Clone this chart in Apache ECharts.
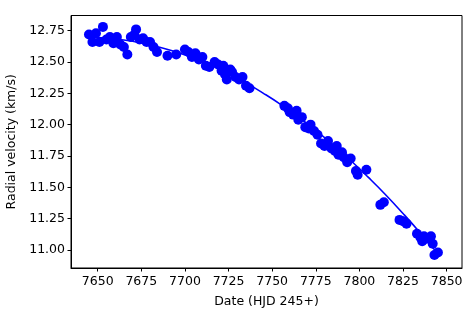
<!DOCTYPE html>
<html><head><meta charset="utf-8">
<script src="https://cdn.jsdelivr.net/npm/echarts@6/dist/echarts.min.js"></script>
<style>html,body{margin:0;padding:0;background:#fff}#c{width:474px;height:316px}</style>
</head><body><div id="c"></div>
<script>
const obsDates = [7645,7647,7649,7651,7653,7655,7657,7659,7661,7663,7665,7667,7669,7671,7672,7674,7676,7678,7680,7682,7684,7690,7695,7700,7702,7704,7706,7708,7710,7712,7714,7717,7719,7721,7722,7723,7724,7726,7727,7729,7731,7733,7735,7737,7757,7759,7760,7762,7764,7765,7767,7769,7771,7772,7774,7776,7778,7780,7782,7784,7786,7787,7788,7790,7791,7793,7795,7798,7799,7804,7812,7814,7823,7825,7827,7833,7835,7836,7837,7838,7840,7841,7842,7843,7845];
const obsRV = [12.72,12.66,12.73,12.66,12.78,12.68,12.70,12.65,12.70,12.64,12.62,12.56,12.70,12.72,12.76,12.68,12.69,12.66,12.66,12.62,12.58,12.55,12.56,12.60,12.58,12.54,12.57,12.52,12.54,12.47,12.46,12.50,12.48,12.43,12.47,12.40,12.36,12.44,12.42,12.38,12.36,12.38,12.31,12.29,12.15,12.13,12.10,12.08,12.11,12.04,12.06,11.98,11.97,12.00,11.95,11.92,11.85,11.83,11.87,11.81,11.79,11.83,11.76,11.78,11.74,11.70,11.73,11.63,11.60,11.64,11.36,11.38,11.24,11.23,11.21,11.13,11.10,11.07,11.11,11.09,11.09,11.11,11.05,10.96,10.98];
const fitDates = [7645,7655,7665,7675,7685,7695,7705,7715,7725,7735,7745,7755,7765,7775,7785,7795,7805,7815,7825,7835,7845];
const fitRV = [12.700,12.692,12.676,12.652,12.620,12.579,12.530,12.473,12.407,12.333,12.250,12.160,12.061,11.953,11.838,11.714,11.581,11.441,11.291,11.134,10.969];
const xTicks = [7650,7675,7700,7725,7750,7775,7800,7825,7850];
const yTicks = [11.00,11.25,11.50,11.75,12.00,12.25,12.50,12.75];

const chart = echarts.init(document.getElementById('c'));
const font = 'DejaVu Sans';
chart.setOption({
  animation:false,
  grid:{left:71,right:12,top:15.5,bottom:48,show:true,borderColor:'#000',borderWidth:1,outerBoundsMode:'none',containLabel:false},
  xAxis:{type:'value',min:7634.7,max:7858.8,
    name:'Date (HJD 245+)',nameLocation:'middle',nameGap:27,
    nameTextStyle:{fontFamily:font,fontSize:12.5,color:'#000'},
    axisLine:{show:true,lineStyle:{color:'#000',width:1}},
    axisTick:{show:true,length:3.5,lineStyle:{color:'#000'},customValues:xTicks},
    axisLabel:{fontFamily:font,fontSize:12.5,color:'#000',margin:7,customValues:xTicks,formatter:v=>String(Math.round(v))},
    splitLine:{show:false}},
  yAxis:{type:'value',min:10.856,max:12.871,
    name:'Radial velocity (km/s)',nameLocation:'middle',nameGap:53,nameRotate:90,
    nameTextStyle:{fontFamily:font,fontSize:12.5,color:'#000'},
    axisLine:{show:true,lineStyle:{color:'#000',width:1}},
    axisTick:{show:true,length:3.5,lineStyle:{color:'#000'},customValues:yTicks},
    axisLabel:{fontFamily:font,fontSize:12.5,color:'#000',margin:6,customValues:yTicks,formatter:v=>v.toFixed(2)},
    splitLine:{show:false}},
  series:[
    {type:'line',data:fitDates.map((d,i)=>[d,fitRV[i]]),smooth:true,showSymbol:false,
     lineStyle:{color:'#0000ff',width:1.6},z:2},
    {type:'scatter',data:obsDates.map((d,i)=>[d,obsRV[i]]),symbolSize:10,
     itemStyle:{color:'#0000ff',opacity:1},z:3}
  ]
});
</script></body></html>
